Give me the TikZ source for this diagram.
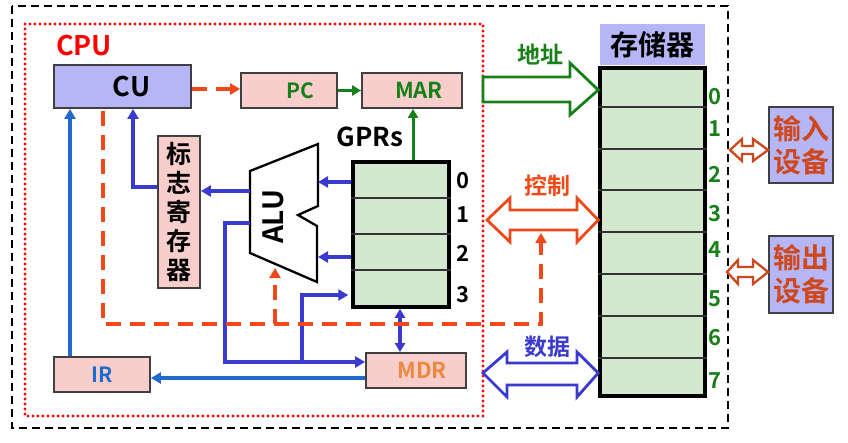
\documentclass[tikz,border=0pt]{standalone}
\usepackage{fontspec}
\setmainfont{Noto Sans CJK SC}[BoldFont={Noto Sans CJK SC Bold}]
\usetikzlibrary{arrows.meta,calc}
\definecolor{lav}{RGB}{182,182,246}
\definecolor{pinkf}{RGB}{248,206,204}
\definecolor{greenf}{RGB}{212,232,208}
\definecolor{greent}{RGB}{24,128,24}
\definecolor{reda}{RGB}{240,72,24}
\definecolor{bluea}{RGB}{58,58,206}
\definecolor{blueir}{RGB}{32,108,200}
\definecolor{mdrc}{RGB}{236,136,64}
\definecolor{devc}{RGB}{206,72,30}
\tikzset{
 fs/.style={font=\bfseries\fontsize{#1}{#1}\selectfont},
 regbox/.style={draw=black!75, line width=1.8pt, fill=pinkf, inner sep=0pt},
 lavbox/.style={draw=black!75, line width=1.8pt, fill=lav, inner sep=0pt},
 tip/.style={-{Triangle[length=10pt,width=11pt]}},
 barr/.style={draw=bluea, line width=3.3pt, tip},
 irarr/.style={draw=blueir, line width=3.3pt, tip},
 garr/.style={draw=greent, line width=3pt, -{Triangle[length=9pt,width=10pt]}},
 rdash/.style={draw=reda, line width=4pt, dash pattern=on 15pt off 9pt},
 hollow/.style={line width=2.8pt, fill=white, line join=miter},
 rowline/.style={draw=black!80, line width=1.5pt},
}
\begin{document}
\begin{tikzpicture}[x=1pt,y=-1pt]
\useasboundingbox (0,0) rectangle (848,442);
% frames
\draw[black, line width=2.3pt, dash pattern=on 8pt off 5pt] (12,6) rectangle (728,428);
\draw[red, line width=3.2pt, dash pattern=on 0pt off 5pt, line cap=round] (25,24) rectangle (483,416);
\node[text=red, fs=27] (cpu) at (84,46) {CPU};
% boxes
\node[lavbox, minimum width=137pt, minimum height=43pt, fs=27] (cu) at (122.5,86.5) {\hspace*{18pt}CU};
\node[regbox, minimum width=96pt, minimum height=35pt, fs=21, text=greent] (pc) at (289,90.5) {\hspace*{22pt}PC};
\node[regbox, minimum width=100pt, minimum height=35pt, fs=22, text=greent] (mar) at (412,90.5) {\hspace*{14pt}MAR};
\node[regbox, minimum width=42pt, minimum height=152pt, align=center, font=\bfseries\fontsize{25}{29}\selectfont] (flag) at (179,212) {标\\志\\寄\\存\\器};
\node[draw=black, line width=3.5pt, fill=greenf, minimum width=96pt, minimum height=145pt, inner sep=0pt] (gpr) at (401,234.5) {};
\foreach \yy in {198,234,270} \draw[rowline] (gpr.west |- 0,\yy) -- (gpr.east |- 0,\yy);
\node[fs=26] (gprl) at (370,137) {GPRs};
\foreach \n/\yy in {0/181,1/215,2/253,3/295} \node[fs=22] (g\n) at (463,\yy) {\n};
\node[regbox, minimum width=100pt, minimum height=35pt, fs=22, text=mdrc] (mdr) at (416,370.5) {\hspace*{12pt}MDR};
\node[regbox, minimum width=96pt, minimum height=35pt, fs=21, text=blueir] (ir) at (102,374.5) {IR};
% ALU
\draw[line width=2.3pt, fill=white, line join=miter] (250,171) -- (318,144) -- (318,206) -- (298,215) -- (317,226) -- (317,282) -- (250,253) -- cycle;
\node[rotate=90, fs=28] (alu) at (273,217) {ALU};
\coordinate (aluR) at (318,0);
\coordinate (aluL) at (250,0);
% memory
\node[fill=lav, minimum width=105pt, minimum height=41pt, inner sep=0pt, fs=28] (memh) at (652.5,44.5) {存储器};
\node[draw=black, line width=3.5pt, fill=greenf, minimum width=105pt, minimum height=328pt, inner sep=0pt] (mem) at (652.5,232) {};
\foreach \yy in {107,149,190,232,274,316,358} \draw[rowline] (mem.west |- 0,\yy) -- (mem.east |- 0,\yy);
\foreach \n/\yy in {0/97,1/129,2/174,3/214,4/250,5/299,6/338,7/381} \node[fs=22, text=greent] (m\n) at (715,\yy) {\n};
% devices
\node[lavbox, minimum width=64pt, minimum height=76pt, text=devc, align=center, font=\bfseries\fontsize{28}{33}\selectfont] (inp) at (801,145) {输入\\设备};
\node[lavbox, minimum width=64pt, minimum height=77pt, text=devc, align=center, font=\bfseries\fontsize{28}{33}\selectfont] (outp) at (801,274.5) {输出\\设备};
% connectors inside CPU
\draw[rdash, tip] (cu.east |- 0,89) -- (pc.west |- 0,89);
\draw[garr] (pc.east) -- (mar.west);
\draw[garr] (gpr.north -| 413,0) -- (mar.south -| 413,0);
\draw[barr] (gpr.west |- 0,182) -- (aluR |- 0,182);
\draw[barr] (gpr.west |- 0,257) -- (aluR |- 0,257);
\draw[barr] (aluL |- 0,191) -- (flag.east |- 0,191);
\draw[barr] (flag.west |- 0,187) -| (cu.south -| 133,0);
\draw[barr] (aluL |- 0,223) -| (225,362) -- (mdr.west |- 0,362);
\draw[barr, shorten >=3pt] (302,362) |- (gpr.west |- 0,295);
\draw[draw=bluea, line width=3.3pt, {Triangle[length=9pt,width=10pt]}-{Triangle[length=9pt,width=10pt]}] (gpr.south -| 400,0) -- (mdr.north -| 400,0);
\draw[irarr] (mdr.west |- 0,378) -- (ir.east |- 0,378);
\draw[irarr] (ir.north -| 70,0) -- (cu.south -| 70,0);
% control dashed
\draw[rdash, tip] (103,111) -- (103,324) -- (541,324) -- (541,233);
\draw[rdash, tip] (275,324) -- (275,268);
% buses
\draw[hollow, draw=greent] (483,77) -- (570,77) -- (570,63) -- (mem.west |- 0,90) -- (570,115) -- (570,102) -- (483,102) -- cycle;
\node[fs=23, text=greent] (addr) at (540,55) {地址};
\draw[hollow, draw=reda] (487,220) -- (510,198) -- (510,210) -- (577,210) -- (577,198) -- (mem.west |- 0,220) -- (577,242) -- (577,230) -- (510,230) -- (510,242) -- cycle;
\node[fs=23, text=reda] (ctrl) at (547,186) {控制};
\draw[hollow, draw=bluea] (483,373) -- (507,352) -- (507,363) -- (577,363) -- (577,352) -- (mem.west |- 0,373) -- (577,397) -- (577,385) -- (507,385) -- (507,397) -- cycle;
\node[fs=23, text=bluea] (data) at (547,347) {数据};
% IO arrows
\draw[line width=2.3pt, draw=devc, fill=white] (730,150) -- (742,139) -- (742,146) -- (753,146) -- (753,139) -- (inp.west |- 0,150) -- (753,161) -- (753,154) -- (742,154) -- (742,161) -- cycle;
\draw[line width=2.3pt, draw=devc, fill=white] (727,272) -- (738,260) -- (738,267) -- (753,267) -- (753,260) -- (outp.west |- 0,272) -- (753,284) -- (753,277) -- (738,277) -- (738,284) -- cycle;
\end{tikzpicture}
\end{document}
